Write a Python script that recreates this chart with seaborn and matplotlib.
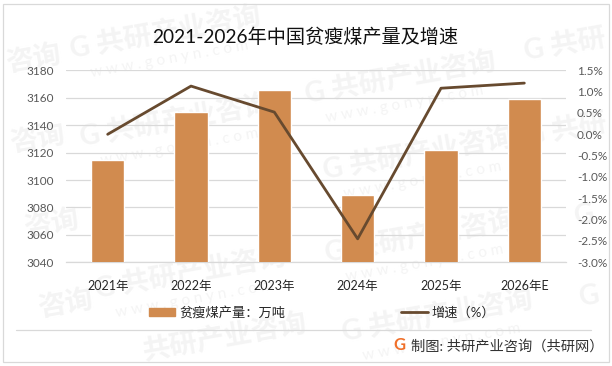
import matplotlib
matplotlib.use("Agg")
import matplotlib.pyplot as plt
from matplotlib.lines import Line2D
from matplotlib.patches import Patch, Rectangle
import seaborn as sns

years = ["2021年", "2022年", "2023年", "2024年", "2025年", "2026年E"]
output = [3114.6, 3149.6, 3165.6, 3089, 3122, 3159]
growth = [0.0, 1.13, 0.52, -2.45, 1.08, 1.2]
left_ticks = [3040, 3060, 3080, 3100, 3120, 3140, 3160, 3180]
right_ticks = [-3.0, -2.5, -2.0, -1.5, -1.0, -0.5, 0.0, 0.5, 1.0, 1.5]

sns.set_style("white")
plt.rcParams["font.family"] = ["Lato", "Noto Sans CJK SC", "DejaVu Sans"]

W, H = 612, 366
fig = plt.figure(figsize=(W / 100, H / 100), dpi=100)
ax = fig.add_axes([66 / W, 1 - 262.3 / H, 500 / W, 192 / H])
ax.patch.set_visible(False)

# watermark, whole copies first
for x, y in [(165, 32), (400, 77), (175, 120), (418, 153), (190, 272), (420, 236), (437, 315)]:
    fig.text(x / W, 1 - y / H, "G 共研产业咨询", fontsize=20, fontweight="bold", color="#f4f4f4",
             rotation=10, ha="center", va="center", zorder=-5)
    fig.text((x + 5) / W, 1 - (y + 27) / H, "w w w . g o n y n . c o m", fontsize=11, color="#f4f4f4",
             rotation=10, ha="center", va="center", zorder=-5)
# the pieces at the edges
for x, y, s in [(34, 60, "咨询"), (38, 140, "咨询"), (52, 225, "咨询"), (66, 305, "咨询"),
                (565, 45, "G 共研"), (566, 130, "G 共研"), (585, 215, "G"), (590, 296, "G"),
                (225, 336, "共研产业咨询")]:
    fig.text(x / W, 1 - y / H, s, fontsize=20, fontweight="bold", color="#f4f4f4",
             rotation=10, ha="center", va="center", zorder=-5)

sns.barplot(x=years, y=output, color="#d18b4f", saturation=1, width=0.4, ax=ax, zorder=3)
ax.set_ylim(3040, 3180)
ax.set_yticks(left_ticks)
ax.grid(axis="y", color="#d9d9d9", lw=0.9, zorder=0)
ax.set_axisbelow(True)
sns.despine(ax=ax, left=True, right=True, top=True, bottom=False)
ax.spines["bottom"].set_color("#d9d9d9")
ax.spines["bottom"].set_linewidth(0.9)
ax.tick_params(axis="y", length=0, labelsize=8.5, labelcolor="#595959", pad=8.5)
ax.tick_params(axis="x", length=0, labelsize=9, labelcolor="#262626", pad=13)
ax.set_xlabel("")
ax.set_ylabel("")

ax2 = ax.twinx()
ax2.patch.set_visible(False)
sns.lineplot(x=years, y=growth, color="#674a2f", lw=2.0, ax=ax2, errorbar=None, sort=False)
ax2.set_ylim(-3.0, 1.5)
ax2.set_yticks(right_ticks)
ax2.set_yticklabels([f"{v:.1f}%" for v in right_ticks])
ax2.grid(False)
sns.despine(ax=ax2, left=True, right=True, top=True, bottom=True)
ax2.tick_params(axis="y", length=0, labelsize=8.5, labelcolor="#595959", pad=8)
ax2.set_xlabel("")
ax2.set_ylabel("")
ax.set_xlim(-0.5, 5.5)  # lineplot widens the shared x axis

fig.text(305.5 / W, 1 - 37 / H, "2021-2026年中国贫瘦煤产量及增速", fontsize=13.8, color="#111111",
         ha="center", va="center")

handles = [Patch(color="#d18b4f"), Line2D([0], [0], color="#674a2f", lw=2.0)]
fig.legend(handles, ["贫瘦煤产量：万吨", "增速（%）"], ncol=2, frameon=False, fontsize=9.5,
           labelcolor="#262626", loc="center", bbox_to_anchor=(322 / W, 1 - 312 / H),
           handlelength=2.0, handleheight=0.6, handletextpad=0.3, columnspacing=8.8)

# separator, footer and outer border
fig.add_artist(Line2D([16 / W, 591 / W], [1 - 330 / H] * 2, color="#d9d9d9", lw=0.9))
fig.text(399 / W, 1 - 345.5 / H, "G", fontsize=12, fontweight="bold", color="#f0702a", ha="center", va="center")
fig.text(411 / W, 1 - 346 / H, "制图: 共研产业咨询（共研网）", fontsize=10.3, color="#333333", ha="left", va="center")
fig.add_artist(Rectangle((3.5 / W, 1 - 361.5 / H), 605 / W, 358 / H, fill=False, ec="#d9d9d9", lw=0.9))

fig.savefig("out.png", dpi=100)
